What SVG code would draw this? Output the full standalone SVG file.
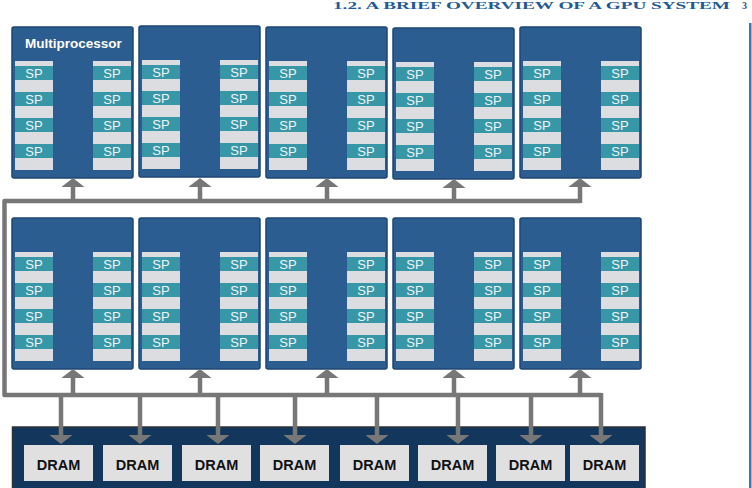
<svg xmlns="http://www.w3.org/2000/svg" width="752" height="488" viewBox="0 0 752 488">
<style>
.hdr{font-family:"Liberation Serif",serif;font-weight:bold;font-size:10px;fill:#1f5a94}
.mp{fill:#2c5d90;stroke:#1c4573;stroke-width:1.5}
.col{fill:#dcdde0}
.band{fill:#3897a7}
.sp{font-family:"Liberation Sans",Arial,sans-serif;font-size:13px;fill:#eef4f7;text-anchor:middle}
.title{font-family:"Liberation Sans",Arial,sans-serif;font-size:13.5px;font-weight:bold;fill:#ffffff}
.bus{fill:none;stroke:#777777;stroke-width:4.5;stroke-linejoin:round}
.arr{fill:none;stroke:#777777;stroke-width:4.5;marker-end:url(#head)}
.dram{fill:#e0e0e1}
.dt{font-family:"Liberation Sans",Arial,sans-serif;font-size:14.5px;font-weight:bold;fill:#111111;text-anchor:middle}
</style>
<defs>
<marker id="head" viewBox="0 0 9 23" markerWidth="9" markerHeight="23" refX="0" refY="11.5" orient="auto" markerUnits="userSpaceOnUse">
<path d="M0,0 L9,11.5 L0,23 Z" fill="#777777"/>
</marker>
<g id="cols">
<rect class="col" x="3" y="34" width="38" height="109"/>
<rect class="col" x="81" y="34" width="38" height="109"/>
<rect class="band" x="3" y="39" width="38" height="14"/>
<rect class="band" x="3" y="65" width="38" height="14"/>
<rect class="band" x="3" y="91" width="38" height="14"/>
<rect class="band" x="3" y="117" width="38" height="14"/>
<rect class="band" x="81" y="39" width="38" height="14"/>
<rect class="band" x="81" y="65" width="38" height="14"/>
<rect class="band" x="81" y="91" width="38" height="14"/>
<rect class="band" x="81" y="117" width="38" height="14"/>
</g>
</defs>
<rect width="752" height="488" fill="#ffffff"/>
<text class="hdr" x="333" y="8.5" textLength="397" lengthAdjust="spacingAndGlyphs">1.2. A BRIEF OVERVIEW OF A GPU SYSTEM</text>
<text class="hdr" x="742" y="8.5">3</text>
<rect x="749" y="23" width="2.5" height="465" fill="#3a78b5"/>

<g id="mp-t1" transform="translate(12,27)"><rect class="mp" width="121" height="151" rx="2"/><use href="#cols"/><text class="title" x="13" y="21">Multiprocessor</text><text class="sp" x="22" y="51">SP</text><text class="sp" x="22" y="77">SP</text><text class="sp" x="22" y="103">SP</text><text class="sp" x="22" y="129">SP</text><text class="sp" x="100" y="51">SP</text><text class="sp" x="100" y="77">SP</text><text class="sp" x="100" y="103">SP</text><text class="sp" x="100" y="129">SP</text></g>
<g id="mp-t2" transform="translate(139,26)"><rect class="mp" width="121" height="151" rx="2"/><use href="#cols"/><text class="sp" x="22" y="51">SP</text><text class="sp" x="22" y="77">SP</text><text class="sp" x="22" y="103">SP</text><text class="sp" x="22" y="129">SP</text><text class="sp" x="100" y="51">SP</text><text class="sp" x="100" y="77">SP</text><text class="sp" x="100" y="103">SP</text><text class="sp" x="100" y="129">SP</text></g>
<g id="mp-t3" transform="translate(266,27)"><rect class="mp" width="121" height="151" rx="2"/><use href="#cols"/><text class="sp" x="22" y="51">SP</text><text class="sp" x="22" y="77">SP</text><text class="sp" x="22" y="103">SP</text><text class="sp" x="22" y="129">SP</text><text class="sp" x="100" y="51">SP</text><text class="sp" x="100" y="77">SP</text><text class="sp" x="100" y="103">SP</text><text class="sp" x="100" y="129">SP</text></g>
<g id="mp-t4" transform="translate(393,28)"><rect class="mp" width="121" height="151" rx="2"/><use href="#cols"/><text class="sp" x="22" y="51">SP</text><text class="sp" x="22" y="77">SP</text><text class="sp" x="22" y="103">SP</text><text class="sp" x="22" y="129">SP</text><text class="sp" x="100" y="51">SP</text><text class="sp" x="100" y="77">SP</text><text class="sp" x="100" y="103">SP</text><text class="sp" x="100" y="129">SP</text></g>
<g id="mp-t5" transform="translate(520,27)"><rect class="mp" width="121" height="151" rx="2"/><use href="#cols"/><text class="sp" x="22" y="51">SP</text><text class="sp" x="22" y="77">SP</text><text class="sp" x="22" y="103">SP</text><text class="sp" x="22" y="129">SP</text><text class="sp" x="100" y="51">SP</text><text class="sp" x="100" y="77">SP</text><text class="sp" x="100" y="103">SP</text><text class="sp" x="100" y="129">SP</text></g>

<g id="mp-b1" transform="translate(12,218)"><rect class="mp" width="121" height="151" rx="2"/><use href="#cols"/><text class="sp" x="22" y="51">SP</text><text class="sp" x="22" y="77">SP</text><text class="sp" x="22" y="103">SP</text><text class="sp" x="22" y="129">SP</text><text class="sp" x="100" y="51">SP</text><text class="sp" x="100" y="77">SP</text><text class="sp" x="100" y="103">SP</text><text class="sp" x="100" y="129">SP</text></g>
<g id="mp-b2" transform="translate(139,218)"><rect class="mp" width="121" height="151" rx="2"/><use href="#cols"/><text class="sp" x="22" y="51">SP</text><text class="sp" x="22" y="77">SP</text><text class="sp" x="22" y="103">SP</text><text class="sp" x="22" y="129">SP</text><text class="sp" x="100" y="51">SP</text><text class="sp" x="100" y="77">SP</text><text class="sp" x="100" y="103">SP</text><text class="sp" x="100" y="129">SP</text></g>
<g id="mp-b3" transform="translate(266,218)"><rect class="mp" width="121" height="151" rx="2"/><use href="#cols"/><text class="sp" x="22" y="51">SP</text><text class="sp" x="22" y="77">SP</text><text class="sp" x="22" y="103">SP</text><text class="sp" x="22" y="129">SP</text><text class="sp" x="100" y="51">SP</text><text class="sp" x="100" y="77">SP</text><text class="sp" x="100" y="103">SP</text><text class="sp" x="100" y="129">SP</text></g>
<g id="mp-b4" transform="translate(393,218)"><rect class="mp" width="121" height="151" rx="2"/><use href="#cols"/><text class="sp" x="22" y="51">SP</text><text class="sp" x="22" y="77">SP</text><text class="sp" x="22" y="103">SP</text><text class="sp" x="22" y="129">SP</text><text class="sp" x="100" y="51">SP</text><text class="sp" x="100" y="77">SP</text><text class="sp" x="100" y="103">SP</text><text class="sp" x="100" y="129">SP</text></g>
<g id="mp-b5" transform="translate(520,218)"><rect class="mp" width="121" height="151" rx="2"/><use href="#cols"/><text class="sp" x="22" y="51">SP</text><text class="sp" x="22" y="77">SP</text><text class="sp" x="22" y="103">SP</text><text class="sp" x="22" y="129">SP</text><text class="sp" x="100" y="51">SP</text><text class="sp" x="100" y="77">SP</text><text class="sp" x="100" y="103">SP</text><text class="sp" x="100" y="129">SP</text></g>

<g id="memory">
<rect x="12.5" y="427" width="632.5" height="66" fill="#12365c" stroke="#2e3236" stroke-width="1.5"/>
<g id="dram1"><rect class="dram" x="24" y="445" width="69" height="36"/><text class="dt" x="58.5" y="470">DRAM</text></g>
<g id="dram2"><rect class="dram" x="103" y="445" width="69" height="36"/><text class="dt" x="137.5" y="470">DRAM</text></g>
<g id="dram3"><rect class="dram" x="182" y="445" width="69" height="36"/><text class="dt" x="216.5" y="470">DRAM</text></g>
<g id="dram4"><rect class="dram" x="260" y="445" width="69" height="36"/><text class="dt" x="294.5" y="470">DRAM</text></g>
<g id="dram5"><rect class="dram" x="340" y="445" width="69" height="36"/><text class="dt" x="374.5" y="470">DRAM</text></g>
<g id="dram6"><rect class="dram" x="418" y="445" width="69" height="36"/><text class="dt" x="452.5" y="470">DRAM</text></g>
<g id="dram7"><rect class="dram" x="496" y="445" width="69" height="36"/><text class="dt" x="530.5" y="470">DRAM</text></g>
<g id="dram8"><rect class="dram" x="570" y="445" width="69" height="36"/><text class="dt" x="604.5" y="470">DRAM</text></g>
</g>

<g id="connectors">
<polyline class="bus" points="580,201 4.5,201 4.5,395 601,395"/>
<path class="arr" d="M73,201 V187"/>
<path class="arr" d="M200,201 V187"/>
<path class="arr" d="M327,201 V187"/>
<path class="arr" d="M454,201 V188"/>
<path class="arr" d="M580,203 V187"/>
<path class="arr" d="M73,395 V378"/>
<path class="arr" d="M200,395 V378"/>
<path class="arr" d="M327,395 V378"/>
<path class="arr" d="M454,395 V378"/>
<path class="arr" d="M580,395 V378"/>
<path class="arr" d="M61,395 V435"/>
<path class="arr" d="M140,395 V435"/>
<path class="arr" d="M218,395 V435"/>
<path class="arr" d="M295,395 V435"/>
<path class="arr" d="M377,395 V435"/>
<path class="arr" d="M458,395 V435"/>
<path class="arr" d="M531,395 V435"/>
<path class="arr" d="M601,393 V435"/>
</g>
</svg>
